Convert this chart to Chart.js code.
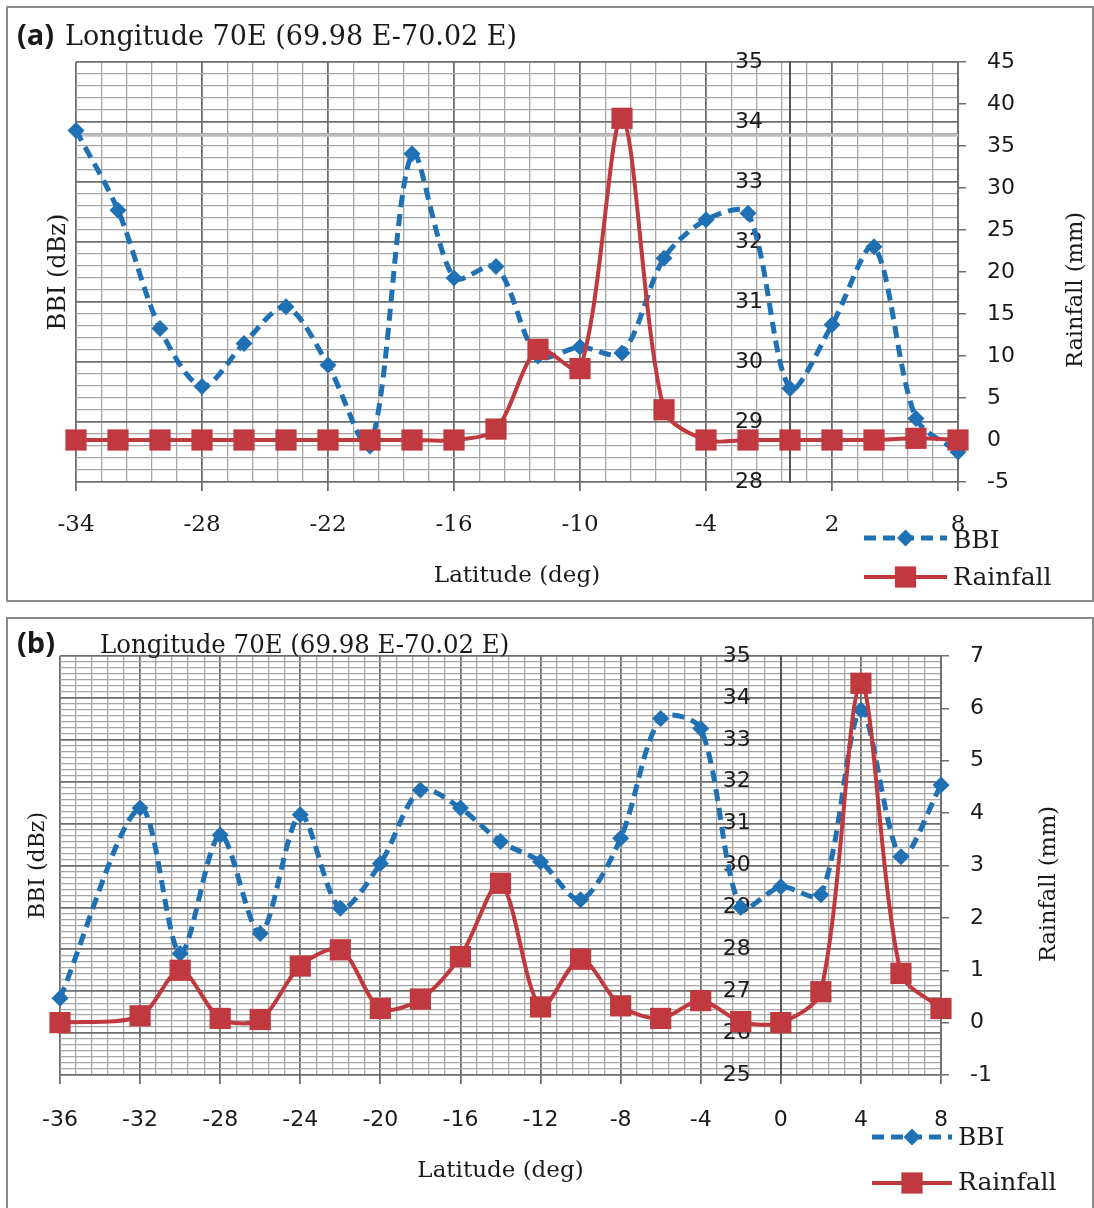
<!DOCTYPE html>
<html>
<head>
<meta charset="utf-8">
<title>BBI and Rainfall along 70E</title>
<script src="https://cdn.jsdelivr.net/npm/chart.js@4.4.1/dist/chart.umd.min.js"></script>
<style>
  html, body { margin: 0; padding: 0; background: #fff; }
  body { width: 1094px; height: 1208px; position: relative; overflow: hidden; }
  .panel { position: absolute; left: 6px; width: 1084px; border: 2px solid #8c8c8c; background: #fff; }
  #panelA { top: 6px; height: 592px; }
  #panelB { top: 617px; height: 600px; }
  canvas { display: block; }
</style>
</head>
<body>
<div class="panel" id="panelA"><canvas id="chartA" width="1084" height="592"></canvas></div>
<div class="panel" id="panelB"><canvas id="chartB" width="1084" height="589"></canvas></div>
<script>
// panel (a)
const latA = [-34, -32, -30, -28, -26, -24, -22, -20, -18, -16, -14, -12, -10, -8, -6, -4, -2, 0, 2, 4, 6, 8];
const bbiA = [33.86, 32.53, 30.56, 29.59, 30.31, 30.92, 29.95, 28.6, 33.47, 31.4, 31.59, 30.1, 30.25, 30.15, 31.73, 32.37, 32.48, 29.56, 30.62, 31.92, 29.06, 28.5];
const rainA = [0, 0, 0, 0, 0, 0, 0, 0, 0, 0, 1.3, 10.8, 8.5, 38.3, 3.6, 0, 0, 0, 0, 0, 0.2, 0];

// panel (b)
const latB = [-36, -32, -30, -28, -26, -24, -22, -20, -18, -16, -14, -12, -10, -8, -6, -4, -2, 0, 2, 4, 6, 8];
const bbiB = [26.83, 31.37, 27.9, 30.73, 28.38, 31.21, 28.98, 30.05, 31.8, 31.37, 30.57, 30.09, 29.18, 30.65, 33.51, 33.27, 29.0, 29.49, 29.3, 33.71, 30.21, 31.92];
const rainB = [0, 0.13, 1.0, 0.08, 0.06, 1.08, 1.39, 0.27, 0.45, 1.26, 2.66, 0.3, 1.21, 0.32, 0.08, 0.42, 0.02, 0, 0.59, 6.48, 0.94, 0.27];

// axis ranges / tick steps
const latTicksA = [-34, 8, 6];   // min, max, labelled step
const bbiTicksA = [28, 35, 1];
const rainTicksA = [-5, 45, 5];
const latTicksB = [-36, 8, 4];
const bbiTicksB = [25, 35, 1];
const rainTicksB = [-1, 7, 1];

const titleText = "Longitude 70E (69.98 E-70.02 E)";

const BLUE = "#2070b4";
const RED = "#c0393e";
const INK = "#1a1a1a";
const GRID_MAJOR = "#6e6e6e";
const GRID_MINOR = "#a6a6a6";
const SERIF = "'DejaVu Serif', serif";
const SANS = "'DejaVu Sans', sans-serif";

function points(xs, ys) {
  return xs.map((x, i) => ({ x: x, y: ys[i] }));
}

function marker(ctx, style, r, x, y) {
  ctx.beginPath();
  if (style === "rectRot") {
    ctx.moveTo(x, y - r);
    ctx.lineTo(x + r, y);
    ctx.lineTo(x, y + r);
    ctx.lineTo(x - r, y);
  } else {
    const s = r * Math.SQRT1_2;
    ctx.rect(x - s, y - s, 2 * s, 2 * s);
  }
  ctx.closePath();
  ctx.fill();
}

// free text: panel label, chart title, right axis title
const panelText = {
  id: "panelText",
  afterDraw(chart, args, opts) {
    const ctx = chart.ctx;
    (opts.items || []).forEach((t) => {
      ctx.save();
      ctx.font = t.font;
      ctx.fillStyle = INK;
      ctx.textAlign = t.align || "left";
      ctx.textBaseline = "alphabetic";
      ctx.translate(t.x, t.y);
      if (t.rotate) ctx.rotate(t.rotate);
      if (t.sx) ctx.scale(t.sx, 1);
      ctx.fillText(t.text, 0, 0);
      ctx.restore();
    });
  },
};

// stacked legend in the lower right corner
const sideLegend = {
  id: "sideLegend",
  afterDraw(chart, args, opts) {
    if (!opts.rows) return;
    const ctx = chart.ctx;
    chart.data.datasets.forEach((ds, i) => {
      const y = opts.rows[i];
      ctx.save();
      ctx.strokeStyle = ds.borderColor;
      ctx.fillStyle = ds.backgroundColor;
      ctx.lineWidth = ds.borderWidth;
      ctx.setLineDash(ds.borderDash || []);
      ctx.beginPath();
      ctx.moveTo(opts.x1, y);
      ctx.lineTo(opts.x2, y);
      ctx.stroke();
      ctx.setLineDash([]);
      marker(ctx, ds.pointStyle, ds.pointRadius, (opts.x1 + opts.x2) / 2, y);
      ctx.fillStyle = INK;
      ctx.font = opts.font;
      ctx.textBaseline = "alphabetic";
      ctx.fillText(ds.label, opts.textX, opts.textRows[i]);
      ctx.restore();
    });
  },
};

// the pale band that crosses panel (a)
const hazeLine = {
  id: "hazeLine",
  beforeDatasetsDraw(chart, args, opts) {
    if (opts.value === undefined) return;
    const ctx = chart.ctx;
    const a = chart.chartArea;
    const y = chart.scales.y.getPixelForValue(opts.value);
    ctx.save();
    ctx.strokeStyle = "#bdbdbd";
    ctx.lineWidth = 3;
    ctx.beginPath();
    ctx.moveTo(a.left, y);
    ctx.lineTo(a.right, y);
    ctx.stroke();
    ctx.restore();
  },
};

function makeChart(id, d) {
  const gridColor = (every) => (c) => (c.index % every === 0 ? GRID_MAJOR : GRID_MINOR);
  const gridWidth = (every) => (c) => (c.index % every === 0 ? 1.8 : 1.3);
  const xEvery = Math.round(d.lat[2] / d.latMinor);
  const yEvery = Math.round(d.bbi[2] / d.bbiMinor);

  return new Chart(document.getElementById(id), {
    type: "line",
    data: {
      datasets: [
        {
          label: "BBI",
          data: points(d.xs, d.bbiVals),
          yAxisID: "y",
          borderColor: BLUE,
          backgroundColor: BLUE,
          borderWidth: 5,
          borderDash: [12, 7],
          tension: 0.3,
          pointStyle: "rectRot",
          pointRadius: 8.5,
          pointBorderWidth: 0,
          clip: false,
          order: 2,
        },
        {
          label: "Rainfall",
          data: points(d.xs, d.rainVals),
          yAxisID: "y1",
          borderColor: RED,
          backgroundColor: RED,
          borderWidth: 4,
          tension: 0.3,
          pointStyle: "rect",
          pointRadius: 15,
          pointBorderWidth: 0,
          clip: false,
          order: 1,
        },
      ],
    },
    options: {
      responsive: false,
      animation: false,
      events: [],
      layout: { padding: { top: d.top, left: 0, right: 0, bottom: 0 } },
      plugins: {
        legend: { display: false },
        tooltip: { enabled: false },
        panelText: { items: d.texts },
        sideLegend: d.legend,
        hazeLine: { value: d.haze },
      },
      scales: {
        x: {
          type: "linear",
          position: "bottom",
          min: d.lat[0],
          max: d.lat[1],
          afterFit: (s) => { s.height = d.xHeight; },
          ticks: {
            stepSize: d.latMinor,
            autoSkip: false,
            maxRotation: 0,
            padding: d.xPad,
            color: INK,
            font: d.xFont,
            callback: (v, i) => (i % xEvery === 0 ? String(Math.round(v)) : ""),
          },
          grid: {
            color: gridColor(xEvery),
            lineWidth: gridWidth(xEvery),
            tickLength: 9,
            tickColor: (c) => (c.index % xEvery === 0 ? GRID_MAJOR : "rgba(0,0,0,0)"),
          },
          border: { display: false },
          title: {
            display: true,
            text: "Latitude (deg)",
            color: INK,
            font: { family: SERIF, size: 23 },
            padding: { top: 0, bottom: d.xTitlePad },
          },
        },
        y: {
          type: "linear",
          axis: "y",
          position: "left",
          min: d.bbi[0],
          max: d.bbi[1],
          afterFit: (s) => { s.width = d.leftWidth; },
          ticks: { display: false, stepSize: d.bbiMinor },
          grid: { color: gridColor(yEvery), lineWidth: gridWidth(yEvery), drawTicks: false },
          border: { display: false },
          title: {
            display: true,
            text: "BBI (dBz)",
            color: INK,
            font: { family: SERIF, size: d.leftTitleSize },
            padding: { top: d.leftTitlePad, bottom: 0 },
          },
        },
        yb: {
          type: "linear",
          axis: "y",
          position: { x: d.bbiLabelAt },
          min: d.bbi[0],
          max: d.bbi[1],
          ticks: { stepSize: d.bbi[2], padding: 0, color: INK, font: { family: SANS, size: 22 } },
          grid: { display: false, drawTicks: false },
          border: { display: false },
        },
        y0: {
          type: "linear",
          axis: "y",
          position: { x: 0 },
          min: d.bbi[0],
          max: d.bbi[1],
          ticks: { display: false },
          grid: { display: false, drawTicks: false },
          border: { display: true, color: "#555555", width: 2 },
        },
        y1: {
          type: "linear",
          axis: "y",
          position: "right",
          min: d.rain[0],
          max: d.rain[1],
          afterFit: (s) => { s.width = d.rightWidth; },
          ticks: { stepSize: d.rain[2], padding: 21, color: INK, font: { family: SANS, size: 22 } },
          grid: { drawOnChartArea: false, tickLength: 8, color: GRID_MAJOR, lineWidth: 1.5 },
          border: { display: true, color: GRID_MAJOR, width: 1.8 },
        },
      },
    },
    plugins: [hazeLine, panelText, sideLegend],
  });
}

makeChart("chartA", {
  xs: latA,
  bbiVals: bbiA,
  rainVals: rainA,
  lat: latTicksA,
  latMinor: 1.2,
  bbi: bbiTicksA,
  bbiMinor: 0.2,
  rain: rainTicksA,
  top: 54,
  leftWidth: 68,
  rightWidth: 134,
  xHeight: 118,
  xPad: 20,
  xFont: { family: SERIF, size: 23 },
  xTitlePad: 10,
  leftTitleSize: 24,
  leftTitlePad: 36,
  bbiLabelAt: -1.29,
  haze: 33.78,
  texts: [
    { text: "(a)", x: 9, y: 37, font: "bold 29px 'Open Sans', sans-serif" },
    { text: titleText, x: 57, y: 37, font: "27px " + SERIF },
    { text: "Rainfall (mm)", x: 1074, y: 282, font: "22.5px " + SERIF, align: "center", rotate: -Math.PI / 2 },
  ],
  legend: { x1: 856, x2: 939, rows: [530, 569], textX: 945, textRows: [540, 577], font: "25px " + SERIF },
});

makeChart("chartB", {
  xs: latB,
  bbiVals: bbiB,
  rainVals: rainB,
  lat: latTicksB,
  latMinor: 0.8,
  bbi: bbiTicksB,
  bbiMinor: 1 / 7,
  rain: rainTicksB,
  top: 37,
  leftWidth: 52,
  rightWidth: 151,
  xHeight: 133,
  xPad: 23,
  xFont: { family: SANS, size: 22 },
  xTitlePad: 23,
  leftTitleSize: 22,
  leftTitlePad: 17,
  bbiLabelAt: -1.5,
  haze: undefined,
  texts: [
    { text: "(b)", x: 9, y: 34, font: "bold 29px 'Open Sans', sans-serif" },
    { text: titleText, x: 92, y: 34, font: "26px " + SERIF, sx: 0.94 },
    { text: "Rainfall (mm)", x: 1047, y: 265, font: "22.5px " + SERIF, align: "center", rotate: -Math.PI / 2 },
  ],
  legend: { x1: 864, x2: 944, rows: [518, 564], textX: 950, textRows: [526, 571], font: "25px " + SERIF },
});
</script>
</body>
</html>
